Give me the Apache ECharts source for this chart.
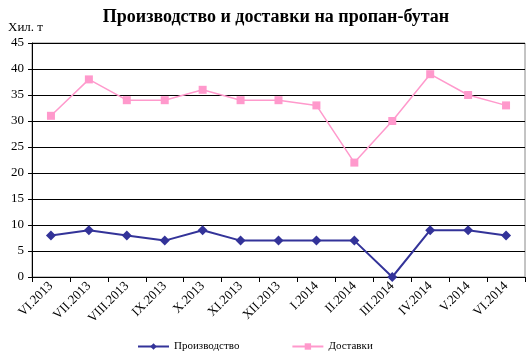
<!DOCTYPE html>
<html><head><meta charset="utf-8">
<script src="https://cdn.jsdelivr.net/npm/echarts@6/dist/echarts.min.js"></script>
<style>html,body{margin:0;padding:0;background:#fff}#c{width:532px;height:359px}</style>
</head><body><div id="c"></div>
<script>
const categories = ["VI.2013","VII.2013","VIII.2013","IX.2013","X.2013","XI.2013","XII.2013","I.2014","II.2014","III.2014","IV.2014","V.2014","VI.2014"];
const production = [8,9,8,7,9,7,7,7,7,0,9,9,8];
const deliveries = [31,38,34,34,36,34,34,33,22,30,39,35,33];
const yTicks = [0,5,10,15,20,25,30,35,40,45];
const F = '"Liberation Serif","DejaVu Serif",serif';
const chart = echarts.init(document.getElementById('c'));
chart.setOption({
  animation:false,
  title:{text:'Производство и доставки на пропан-бутан',left:271,textAlign:'center',top:3,
    textStyle:{fontFamily:F,fontSize:18,fontWeight:'bold',color:'#000'}},
  grid:{left:32,right:7,top:43,bottom:82,show:true,borderColor:'#888',borderWidth:1},
  legend:{top:336,left:132,itemGap:52,itemWidth:31,itemHeight:8,
    textStyle:{fontFamily:F,fontSize:11,color:'#000'},
    data:['Производство','Доставки']},
  xAxis:{type:'category',data:categories,boundaryGap:true,
    axisLine:{lineStyle:{color:'#000'}},
    axisTick:{show:true,alignWithLabel:false,lineStyle:{color:'#000'}},
    axisLabel:{rotate:45,interval:0,fontFamily:F,fontSize:13,color:'#000',margin:7}},
  yAxis:{type:'value',min:0,max:45,interval:5,name:'Хил. т',nameLocation:'end',nameGap:9,
    nameTextStyle:{fontFamily:F,fontSize:13,color:'#000',align:'left',padding:[0,0,0,-24]},
    axisLine:{show:true,lineStyle:{color:'#000'}},axisTick:{show:true,length:4,lineStyle:{color:'#000'}},
    axisLabel:{fontFamily:F,fontSize:13,color:'#000',margin:8,formatter:v=>yTicks.includes(v)?String(v):''},
    splitLine:{lineStyle:{color:'#000',width:1}}},
  series:[
    {name:'Производство',type:'line',data:production,symbol:'diamond',symbolSize:10,
     lineStyle:{color:'#333399',width:2},itemStyle:{color:'#333399'}},
    {name:'Доставки',type:'line',data:deliveries,symbol:'rect',symbolSize:8,
     lineStyle:{color:'#ff99cc',width:1.5},itemStyle:{color:'#ff99cc'}}
  ]
});
</script></body></html>
